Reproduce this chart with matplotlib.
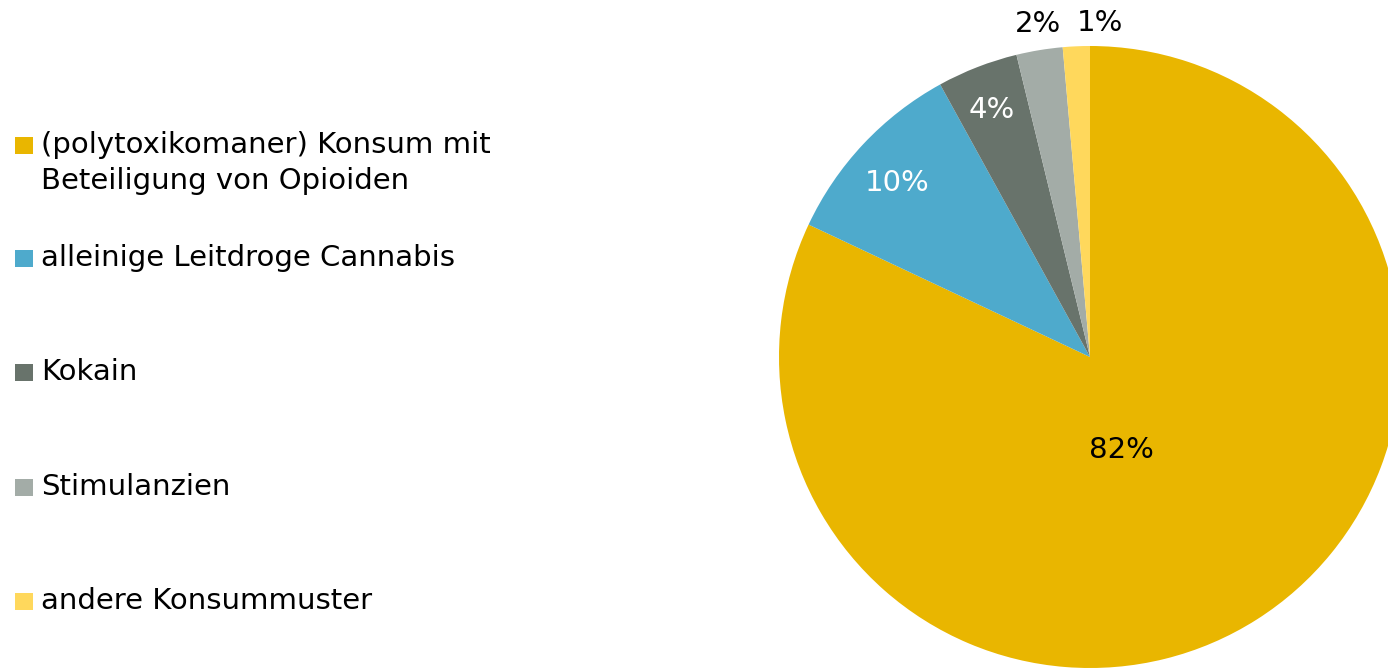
import numpy as np
import matplotlib
matplotlib.use('Agg')
import matplotlib.pyplot as plt
from matplotlib.patches import Rectangle

labels = ['(polytoxikomaner) Konsum mit\nBeteiligung von Opioiden',
          'alleinige Leitdroge Cannabis',
          'Kokain',
          'Stimulanzien',
          'andere Konsummuster']
values = [82.0, 10.0, 4.2, 2.4, 1.4]
colors = ['#E9B600', '#4EAACC', '#68736B', '#A3ACA7', '#FFD85C']
text_colors = ['black', 'white', 'white', 'black', 'black']
# label placement: (distance as fraction of radius, angle shift in degrees)
label_place = [(0.31, -13.4), (0.84, 0.8), (0.86, 0.3), (1.09, -0.6), (1.08, -4.2)]


def main():
    W, H = 1388, 668
    fig = plt.figure(figsize=(W / 100, H / 100), dpi=100)
    ax = fig.add_axes([0, 0, 1, 1])

    cx, cy, r = 1090, 668 - 357, 311
    wedges, _ = ax.pie(values, colors=colors, startangle=90, counterclock=False,
                       center=(cx, cy), radius=r, frame=True,
                       wedgeprops=dict(linewidth=0))
    ax.set_xlim(0, W)
    ax.set_ylim(0, H)
    ax.set_aspect('equal')
    ax.axis('off')

    for w, v, tc, (d, shift) in zip(wedges, values, text_colors, label_place):
        ang = np.deg2rad((w.theta1 + w.theta2) / 2 + shift)
        ax.text(cx + d * r * np.cos(ang), cy + d * r * np.sin(ang) - 2,
                '%d%%' % round(v), color=tc, fontsize=21,
                ha='center', va='center', family='DejaVu Sans')

    # legend
    ys = [668 - 145, 668 - 258, 668 - 372, 668 - 487, 668 - 601]
    for lab, c, y in zip(labels, colors, ys):
        ax.add_patch(Rectangle((15, y - 8.5), 18, 17, facecolor=c, edgecolor='none'))
        ax.text(41, y + 14, lab, fontsize=21, ha='left', va='top',
                linespacing=1.38, family='DejaVu Sans')

    fig.savefig('out.png', dpi=100)


if __name__ == '__main__':
    main()
